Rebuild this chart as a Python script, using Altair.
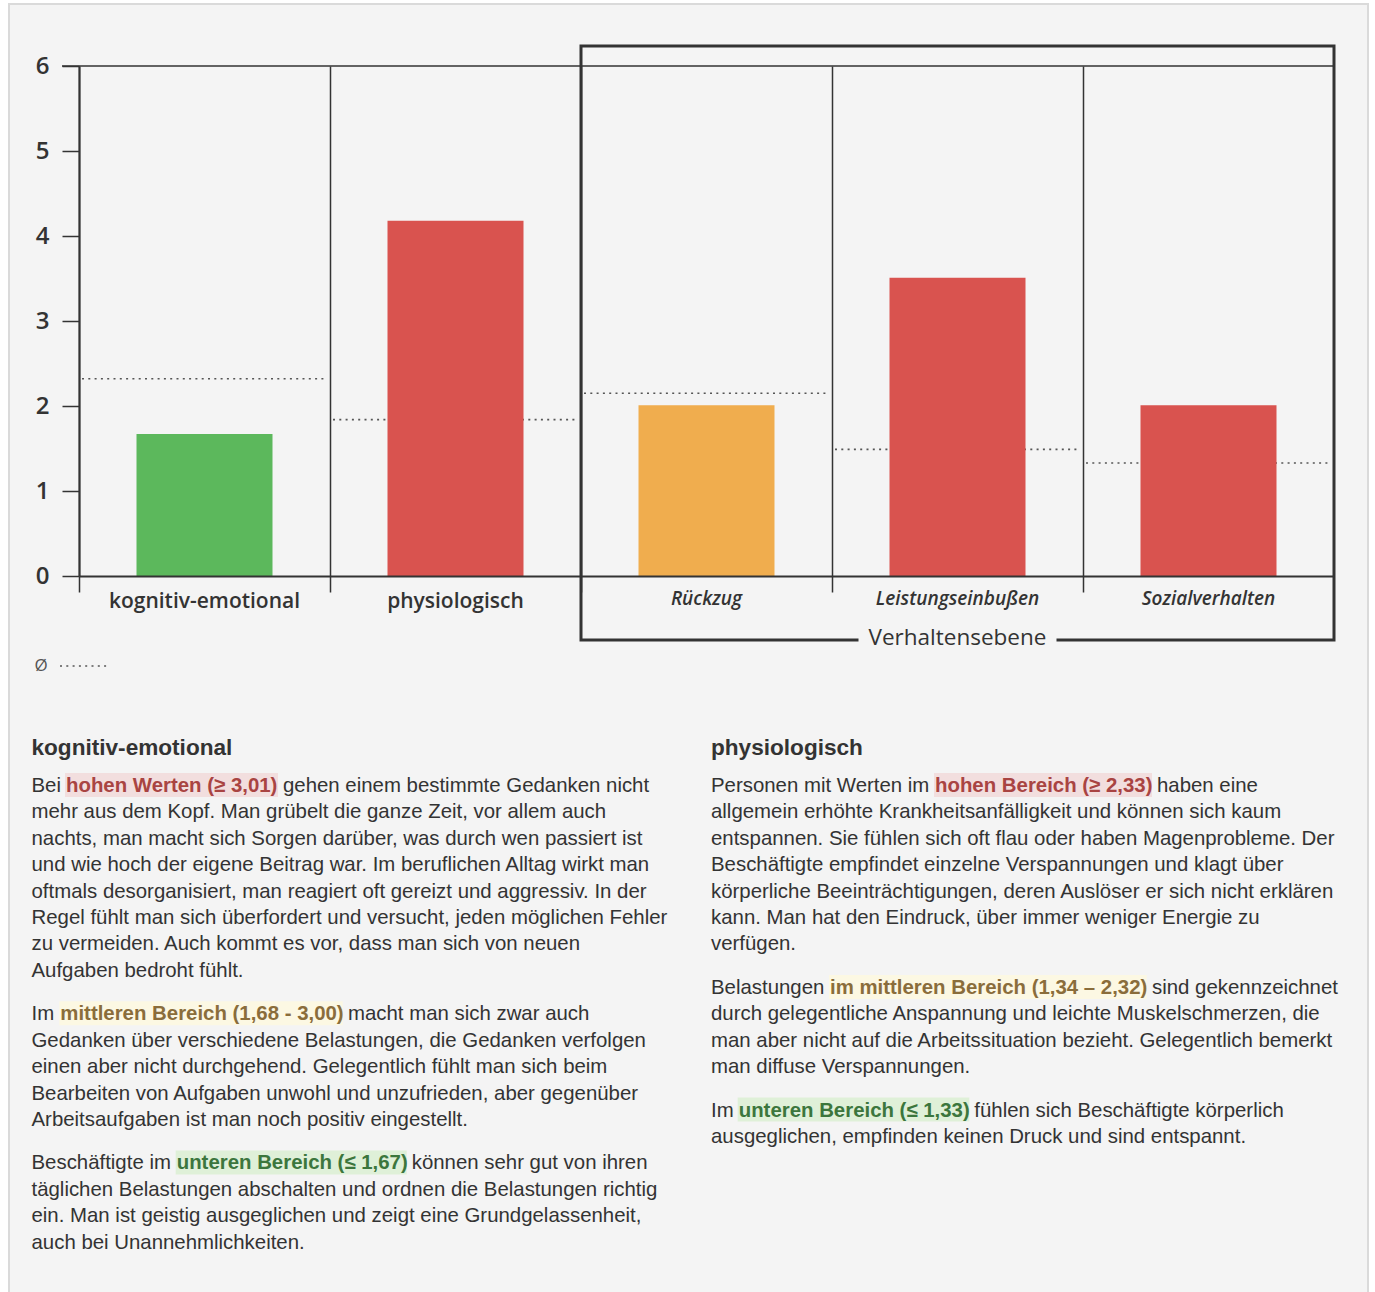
import altair as alt
import pandas as pd

# ---------------- chart values ----------------
categories = ["kognitiv-emotional", "physiologisch", "Rückzug", "Leistungseinbußen", "Sozialverhalten"]
scores = [1.67, 4.18, 2.01, 3.51, 2.01]
averages = [2.32, 1.84, 2.15, 1.49, 1.33]
levels = ["niedrig", "hoch", "mittel", "hoch", "hoch"]
italic_labels = [False, False, True, True, True]
y_ticks = [0, 1, 2, 3, 4, 5, 6]

group_title = "Verhaltensebene"
group_first = "Rückzug"
group_last = "Sozialverhalten"
average_symbol = "Ø"

level_names = ["niedrig", "mittel", "hoch"]
bar_colors = ["#5cb85c", "#f0ad4e", "#d9534f"]
note_text_colors = ["#3c763d", "#8a6d3b", "#a94442"]
note_fill_colors = ["#dff0d8", "#fcf8e3", "#f2dede"]

# ---------------- explanatory texts ----------------
left_heading = "kognitiv-emotional"
left_paragraphs = [
    ("Bei ", "hohen Werten (≥ 3,01)", "hoch", "gehen einem bestimmte Gedanken nicht", [
        "mehr aus dem Kopf. Man grübelt die ganze Zeit, vor allem auch",
        "nachts, man macht sich Sorgen darüber, was durch wen passiert ist",
        "und wie hoch der eigene Beitrag war. Im beruflichen Alltag wirkt man",
        "oftmals desorganisiert, man reagiert oft gereizt und aggressiv. In der",
        "Regel fühlt man sich überfordert und versucht, jeden möglichen Fehler",
        "zu vermeiden. Auch kommt es vor, dass man sich von neuen",
        "Aufgaben bedroht fühlt.",
    ]),
    ("Im ", "mittleren Bereich (1,68 - 3,00)", "mittel", "macht man sich zwar auch", [
        "Gedanken über verschiedene Belastungen, die Gedanken verfolgen",
        "einen aber nicht durchgehend. Gelegentlich fühlt man sich beim",
        "Bearbeiten von Aufgaben unwohl und unzufrieden, aber gegenüber",
        "Arbeitsaufgaben ist man noch positiv eingestellt.",
    ]),
    ("Beschäftigte im ", "unteren Bereich (≤ 1,67)", "niedrig", "können sehr gut von ihren", [
        "täglichen Belastungen abschalten und ordnen die Belastungen richtig",
        "ein. Man ist geistig ausgeglichen und zeigt eine Grundgelassenheit,",
        "auch bei Unannehmlichkeiten.",
    ]),
]
# start/end of the highlighted phrase and start of the rest of the first line
left_inline = [(33.5, 246.5, 251.5), (27.8, 311.2, 316.5), (144.2, 375.2, 380.2)]

right_heading = "physiologisch"
right_paragraphs = [
    ("Personen mit Werten im ", "hohen Bereich (≥ 2,33)", "hoch", "haben eine", [
        "allgemein erhöhte Krankheitsanfälligkeit und können sich kaum",
        "entspannen. Sie fühlen sich oft flau oder haben Magenprobleme. Der",
        "Beschäftigte empfindet einzelne Verspannungen und klagt über",
        "körperliche Beeinträchtigungen, deren Auslöser er sich nicht erklären",
        "kann. Man hat den Eindruck, über immer weniger Energie zu",
        "verfügen.",
    ]),
    ("Belastungen ", "im mittleren Bereich (1,34 – 2,32)", "mittel", "sind gekennzeichnet", [
        "durch gelegentliche Anspannung und leichte Muskelschmerzen, die",
        "man aber nicht auf die Arbeitssituation bezieht. Gelegentlich bemerkt",
        "man diffuse Verspannungen.",
    ]),
    ("Im ", "unteren Bereich (≤ 1,33)", "niedrig", "fühlen sich Beschäftigte körperlich", [
        "ausgeglichen, empfinden keinen Druck und sind entspannt.",
    ]),
]
right_inline = [(223, 441, 446), (118, 435.7, 441), (26.7, 258.3, 263.3)]

# ---------------- layout ----------------
PAGE_W, PAGE_H = 1375, 1292
OX, OY = 79, 66          # plot origin on the page
W, H = 1255, 510         # plot area
TEXT_COLS = [31.5, 711]
HEAD_BASE = 755
BODY_BASE = 792
LINE = 26.4
PARA_GAP = 43.5
BODY_SIZE = 20.4
HEAD_SIZE = 22.6
INK = "#333333"
BG = "#f4f4f4"

chart_df = pd.DataFrame({
    "category": categories,
    "score": scores,
    "average": averages,
    "level": levels,
    "italic": italic_labels,
})

band_scale = alt.Scale(domain=categories, paddingInner=0, paddingOuter=0)
y_scale = alt.Scale(domain=[0, 6], nice=False, zero=True)
level_fill = {n: c for n, c in zip(level_names, note_fill_colors)}
level_ink = {n: c for n, c in zip(level_names, note_text_colors)}

# text rows (page coordinates shifted to the plot origin)
plain_rows, mark_rows, fill_rows, head_rows = [], [], [], []
for x0, heading, paragraphs, inline in [
    (TEXT_COLS[0], left_heading, left_paragraphs, left_inline),
    (TEXT_COLS[1], right_heading, right_paragraphs, right_inline),
]:
    head_rows.append({"x": x0 - OX, "y": HEAD_BASE - OY, "text": heading})
    base = BODY_BASE
    for (lead, mark, level, tail, rest), (a, b, c) in zip(paragraphs, inline):
        plain_rows.append({"x": x0 - OX, "y": base - OY, "text": lead.strip()})
        fill_rows.append({"x": x0 + a - OX, "x2": x0 + b - OX,
                          "y": base - 19 - OY, "y2": base + 5 - OY, "fill": level_fill[level]})
        mark_rows.append({"x": x0 + a + 1 - OX, "y": base - OY, "text": mark, "color": level_ink[level]})
        plain_rows.append({"x": x0 + c - OX, "y": base - OY, "text": tail})
        for line in rest:
            base += LINE
            plain_rows.append({"x": x0 - OX, "y": base - OY, "text": line})
        base += PARA_GAP

one = pd.DataFrame({"k": [0]})

page = alt.Chart(one).mark_rect(fill=BG, stroke="#dadada", strokeWidth=2).encode(
    x=alt.value(9 - OX), x2=alt.value(1368 - OX),
    y=alt.value(4 - OY), y2=alt.value(PAGE_H + 30 - OY),
)

top_rule = alt.Chart(pd.DataFrame({"v": [y_ticks[-1]]})).mark_rule(color=INK, strokeWidth=1.5).encode(
    y=alt.Y("v:Q", scale=y_scale, axis=None),
    x=alt.value(-17), x2=alt.value(W),
)

avg_rules = alt.Chart(chart_df).mark_rule(
    color="#555555", strokeWidth=1.6, strokeDash=[2, 4.3], xOffset=3, x2Offset=-3
).encode(
    x=alt.X("category:N", scale=band_scale, axis=None, bandPosition=0),
    x2=alt.X2("category:N", bandPosition=1),
    y=alt.Y("average:Q", scale=y_scale, axis=None),
)

bars = alt.Chart(chart_df).mark_bar(size=136).encode(
    x=alt.X("category:N", scale=band_scale, axis=alt.Axis(
        title=None, labels=False, bandPosition=0,
        ticks=True, tickSize=16, tickColor=INK, tickWidth=1.5,
        grid=True, gridColor=INK, gridWidth=1.5, gridOpacity=1,
        domain=True, domainColor=INK, domainWidth=2, zindex=1)),
    y=alt.Y("score:Q", scale=y_scale, axis=alt.Axis(
        title=None, values=y_ticks, grid=False,
        tickSize=17, tickColor=INK, tickWidth=1.5,
        domain=True, domainColor=INK, domainWidth=2,
        labelFont="Open Sans", labelFontSize=24, labelFontWeight=600,
        labelColor=INK, labelPadding=13, zindex=1)),
    color=alt.Color("level:N", scale=alt.Scale(domain=level_names, range=bar_colors), legend=None),
)

group_df = pd.DataFrame({
    "first": [group_first], "last": [group_last],
    "middle": [categories[(categories.index(group_first) + categories.index(group_last)) // 2]],
    "title": [group_title],
})

box = alt.Chart(group_df).mark_rect(fillOpacity=0, stroke=INK, strokeWidth=3).encode(
    x=alt.X("first:N", scale=band_scale, axis=None, bandPosition=0),
    x2=alt.X2("last:N", bandPosition=1),
    y=alt.value(-20), y2=alt.value(574),
)
box_gap = alt.Chart(group_df).mark_bar(size=198, color=BG).encode(
    x=alt.X("middle:N", scale=band_scale, axis=None),
    y=alt.value(562), y2=alt.value(583),
)
box_title = alt.Chart(group_df).mark_text(
    font="Open Sans", fontSize=22.5, color=INK, baseline="middle", align="center"
).encode(
    x=alt.X("middle:N", scale=band_scale, axis=None),
    y=alt.value(572),
    text="title:N",
)

labels_plain = alt.Chart(chart_df).transform_filter("!datum.italic").mark_text(
    font="Open Sans", fontSize=21, fontWeight=600, color=INK, baseline="middle"
).encode(
    x=alt.X("category:N", scale=band_scale, axis=None),
    y=alt.value(H + 26),
    text="category:N",
)
labels_italic = alt.Chart(chart_df).transform_filter("datum.italic").mark_text(
    font="Open Sans", fontSize=19, fontWeight=600, fontStyle="italic", color=INK, baseline="middle"
).encode(
    x=alt.X("category:N", scale=band_scale, axis=None),
    y=alt.value(H + 23),
    text="category:N",
)

legend_symbol = alt.Chart(pd.DataFrame({"s": [average_symbol]})).mark_text(
    font="Open Sans", fontSize=17, color="#555555", baseline="middle", align="center"
).encode(x=alt.value(-38), y=alt.value(600), text="s:N")
legend_line = alt.Chart(one).mark_rule(color="#555555", strokeWidth=1.6, strokeDash=[2, 4.3]).encode(
    x=alt.value(-19), x2=alt.value(31), y=alt.value(600),
)

fills = alt.Chart(pd.DataFrame(fill_rows)).mark_rect().encode(
    x=alt.X("x:Q", scale=None, axis=None), x2="x2:Q",
    y=alt.Y("y:Q", scale=None, axis=None), y2="y2:Q",
    fill=alt.Fill("fill:N", scale=None),
)
headings = alt.Chart(pd.DataFrame(head_rows)).mark_text(
    font="Liberation Sans", fontSize=HEAD_SIZE, fontWeight="bold", color=INK, align="left", baseline="alphabetic"
).encode(
    x=alt.X("x:Q", scale=None, axis=None), y=alt.Y("y:Q", scale=None, axis=None), text="text:N",
)
plain = alt.Chart(pd.DataFrame(plain_rows)).mark_text(
    font="Liberation Sans", fontSize=BODY_SIZE, color=INK, align="left", baseline="alphabetic"
).encode(
    x=alt.X("x:Q", scale=None, axis=None), y=alt.Y("y:Q", scale=None, axis=None), text="text:N",
)
marks = alt.Chart(pd.DataFrame(mark_rows)).mark_text(
    font="Liberation Sans", fontSize=BODY_SIZE, fontWeight="bold", align="left", baseline="alphabetic"
).encode(
    x=alt.X("x:Q", scale=None, axis=None), y=alt.Y("y:Q", scale=None, axis=None), text="text:N",
    color=alt.Color("color:N", scale=None),
)

chart = alt.layer(
    page, top_rule, avg_rules, bars, box, box_gap, box_title,
    labels_plain, labels_italic, legend_symbol, legend_line,
    fills, headings, plain, marks,
).resolve_scale(
    x="independent", y="independent", color="independent", fill="independent"
).properties(
    width=W, height=H,
    padding={"left": OX, "top": OY, "right": PAGE_W - OX - W, "bottom": PAGE_H - OY - H},
    autosize=alt.AutoSizeParams(type="none"),
    background="#ffffff",
).configure_view(stroke=None)

chart.save("out.html", embed_options={"renderer": "svg", "actions": False})
